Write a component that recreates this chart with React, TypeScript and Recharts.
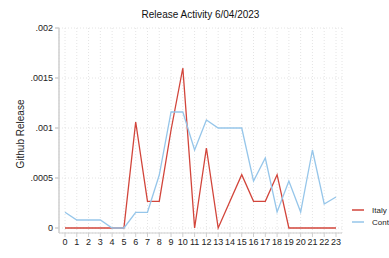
import React from 'react';
import { LineChart, Line, XAxis, YAxis, CartesianGrid } from 'recharts';

const hours = [0, 1, 2, 3, 4, 5, 6, 7, 8, 9, 10, 11, 12, 13, 14, 15, 16, 17, 18, 19, 20, 21, 22, 23];
const italy = [0, 0, 0, 0, 0, 0, 0.00106, 0.000267, 0.000267, 0.00098, 0.0016, 0, 0.0008, 0, 0.000267, 0.000533, 0.000267, 0.000267, 0.000533, 0, 0, 0, 0, 0];
const control = [0.000157, 0.00008, 0.00008, 0.00008, 0, 0, 0.000157, 0.000157, 0.00053, 0.00116, 0.00116, 0.00078, 0.00108, 0.001, 0.001, 0.001, 0.00047, 0.0007, 0.00016, 0.00047, 0.00016, 0.00078, 0.00024, 0.00031];
const yTicks = [0, 0.0005, 0.001, 0.0015, 0.002];
const seriesNames = ['Italy', 'Control'];
const colors = ['#d2453b', '#96c6ea'];

const data = hours.map((h, i) => ({ hour: h, italy: italy[i], control: control[i] }));

const fmtY = (v: number) => (v === 0 ? '0' : String(v).replace(/^0/, ''));
const FONT = 'Liberation Sans, Arial, sans-serif';

export default function App() {
  return (
    <div style={{ position: 'absolute', left: 0, top: 0, width: 389, height: 258, overflow: 'hidden', background: '#fff', fontFamily: FONT }}>
      <div style={{ position: 'absolute', top: 9, width: 401, left: 0, textAlign: 'center', fontSize: 10, color: '#111' }}>
        Release Activity 6/04/2023
      </div>
      <LineChart width={389} height={258} data={data} margin={{ top: 28, right: 47, bottom: 0, left: 0 }}>
        <CartesianGrid stroke="#e4e4e4" strokeDasharray="1 2" />
        <XAxis
          dataKey="hour"
          type="number"
          domain={[0, 23]}
          ticks={hours}
          interval={0}
          padding={{ left: 6, right: 6 }}
          height={25}
          tick={{ fontSize: 9, fill: '#222' }}
          tickSize={4}
          stroke="#cfcfcf"
          label={{ value: 'Hour', position: 'insideBottom', offset: -12, fontSize: 11, fill: '#222' }}
        />
        <YAxis
          domain={[0, 0.002]}
          ticks={yTicks}
          tickFormatter={fmtY}
          width={59}
          padding={{ bottom: 5 }}
          tick={{ fontSize: 9, fill: '#222' }}
          tickSize={4}
          stroke="#cfcfcf"
          strokeWidth={1.5}
        />
        <Line dataKey="italy" stroke={colors[0]} strokeWidth={1.3} dot={false} isAnimationActive={false} />
        <Line dataKey="control" stroke={colors[1]} strokeWidth={1.3} dot={false} isAnimationActive={false} />
      </LineChart>
      <svg style={{ position: 'absolute', left: 0, top: 0 }} width={40} height={258}>
        <text x={0} y={0} transform="translate(24,134) rotate(-90)" textAnchor="middle" fontSize={10} fill="#222" fontFamily={FONT}>
          Github Release
        </text>
      </svg>
      <div style={{ position: 'absolute', left: 352, top: 204, width: 60 }}>
        <svg width={60} height={30}>
          {seriesNames.map((n, i) => (
            <g key={n}>
              <line x1={0} x2={12} y1={6 + i * 12} y2={6 + i * 12} stroke={colors[i]} strokeWidth={1.5} />
              <text x={20} y={9 + i * 12} fontSize={8} fill="#222" fontFamily={FONT}>{n}</text>
            </g>
          ))}
        </svg>
      </div>
    </div>
  );
}
